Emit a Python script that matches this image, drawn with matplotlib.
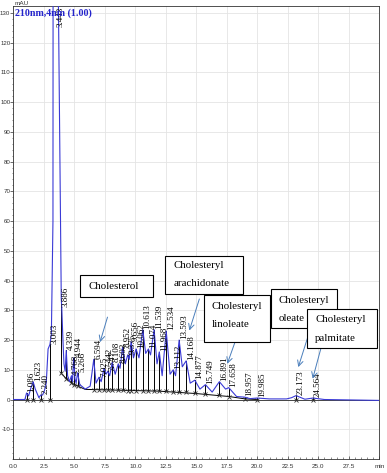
import numpy as np
import matplotlib.pyplot as plt
from matplotlib.patches import Rectangle

plt.rcParams["axes.unicode_minus"] = False

# chromatogram trace (time in min, signal in mAU)
trace_x = [0.0, 0.95, 1.086, 1.25, 1.45, 1.623, 1.80, 2.10, 2.240, 2.40, 2.55, 2.70, 2.85, 3.003,
           3.12, 3.25, 3.28, 3.60, 3.70, 3.93, 3.97, 4.05, 4.15, 4.25, 4.339, 4.45, 4.60, 4.768,
           4.85, 4.944, 5.05, 5.15, 5.266, 5.45, 5.90, 6.30, 6.45, 6.594, 6.78, 6.90, 7.025, 7.20,
           7.442, 7.60, 7.747, 7.90, 8.108, 8.35, 8.603, 8.75, 8.952, 9.18, 9.375, 9.50, 9.656,
           9.85, 10.062, 10.30, 10.613, 10.85, 11.074, 11.25, 11.539, 11.78, 11.968, 12.20, 12.534,
           12.85, 13.112, 13.30, 13.593, 13.85, 14.168, 14.50, 14.877, 15.30, 15.749, 16.30, 16.891,
           17.40, 17.658, 18.30, 18.957, 19.40, 19.985, 21.0, 22.40, 22.80, 23.173, 23.90, 24.564,
           25.50, 30.0]
trace_y = [0.0, 0.0, 2.2, 1.2, 4.0, 6.0, 3.5, 0.6, 1.5, 1.5, 3.0, 5.5, 17.0, 18.5,
           22.0, 60.0, 300.0, 300.0, 132.0, 34.0, 31.0, 22.0, 12.0, 9.5, 16.5, 8.0, 6.0, 8.0,
           6.0, 14.0, 7.0, 5.5, 9.0, 5.0, 3.5, 4.5, 9.0, 13.5, 5.5, 6.5, 7.5, 6.0,
           10.5, 8.5, 9.5, 8.0, 12.5, 8.5, 12.0, 10.5, 17.5, 12.0, 15.0, 13.5, 19.5,
           14.0, 17.0, 14.0, 23.5, 15.5, 17.0, 15.0, 23.5, 12.0, 16.0, 8.0, 23.0,
           8.5, 10.0, 8.0, 20.0, 11.0, 13.0, 5.5, 6.5, 3.5, 5.0, 2.5, 6.0,
           3.5, 4.0, 1.0, 0.8, 0.3, 0.5, 0.2, 0.2, 0.6, 1.3, 0.1, 0.5,
           0.0, -0.3]

# integrated peaks: retention time, apex height, baseline height under the apex
peak_rt = [1.086, 1.623, 2.240, 3.003, 3.443, 3.886, 4.339, 4.768, 4.944, 5.266, 6.594, 7.025,
           7.442, 7.747, 8.108, 8.603, 8.952, 9.375, 9.656, 10.062, 10.613, 11.074, 11.539,
           11.968, 12.534, 13.112, 13.593, 14.168, 14.877, 15.749, 16.891, 17.658, 18.957,
           19.985, 23.173, 24.564]
peak_top = [2.2, 6.0, 1.5, 18.5, 125.0, 31.0, 16.5, 8.0, 14.0, 9.0, 13.5, 7.5,
            10.5, 9.5, 12.5, 12.0, 17.5, 15.0, 19.5, 17.0, 23.5, 17.0, 23.5,
            16.0, 23.0, 10.0, 20.0, 13.0, 6.5, 5.0, 6.0, 4.0, 0.8,
            0.5, 1.3, 0.5]
peak_base = [0.0, 0.0, 0.0, 0.0, 0.0, 9.0, 7.0, 5.4, 5.0, 4.4, 3.3, 3.3,
             3.2, 3.2, 3.2, 3.1, 3.1, 3.0, 3.0, 3.0, 2.9, 2.9, 2.8,
             2.8, 2.7, 2.6, 2.5, 2.4, 2.2, 1.9, 1.4, 1.0, 0.2,
             0.0, 0.0, 0.0]

base_x = [3.886, 4.339, 5.0, 5.9, 8.0, 12.0, 15.0, 17.7, 19.0, 20.0]
base_y = [9.0, 7.0, 5.0, 3.4, 3.2, 2.8, 2.0, 1.0, 0.2, 0.0]

# annotation boxes: lines of text, box corners (data units), arrow start and tip
box_texts = [["Cholesterol"],
             ["Cholesteryl", "arachidonate"],
             ["Cholesteryl", "linoleate"],
             ["Cholesteryl", "oleate"],
             ["Cholesteryl", "palmitate"]]
box_x0 = [5.47, 12.43, 15.66, 21.10, 24.10]
box_x1 = [11.43, 18.85, 21.04, 26.56, 29.84]
box_y0 = [34.4, 35.5, 19.3, 24.1, 17.4]
box_y1 = [41.7, 48.4, 35.0, 37.2, 30.5]
text_x = [6.15, 13.11, 16.26, 21.72, 24.73]
text_y = [[38.1], [45.0, 39.0], [31.3, 25.2], [33.3, 27.1], [26.9, 20.6]]
arrow_from = [(7.72, 27.7), (15.25, 33.8), (18.31, 20.9), (24.10, 20.5), (25.20, 17.0)]
arrow_to = [(7.11, 19.3), (14.43, 23.2), (17.54, 12.0), (23.36, 10.9), (24.54, 7.0)]

serif = "Liberation Serif"
sans = "Liberation Sans"

fig = plt.figure(figsize=(3.87, 4.73), dpi=100)
ax = fig.add_axes([0.0344, 0.0296, 0.9457, 0.9577])
ax.set_xlim(0, 30)
ax.set_ylim(-20, 132.3)

ax.set_xticks(np.arange(0, 30.01, 2.5))
ax.set_xticklabels([f"{v:.1f}" for v in np.arange(0, 27.51, 2.5)] + ["min"])
ax.set_xticks(np.arange(0, 30.01, 0.5), minor=True)
ax.set_yticks(np.arange(-10, 131, 10))
ax.set_yticks(np.arange(-20, 132, 2), minor=True)
ax.grid(True, which="major", color="#e4e4e4", lw=0.6)
ax.set_axisbelow(True)
ax.tick_params(axis="x", which="both", direction="in", labelsize=4.6, labelcolor="#333333",
               pad=3.5, color="#333333")
ax.tick_params(axis="x", which="major", length=2.5, width=0.5)
ax.tick_params(axis="x", which="minor", length=1.5, width=0.4)
ax.tick_params(axis="y", which="both", direction="out", labelsize=4.4, labelcolor="#333333",
               pad=0.2, color="#333333")
ax.tick_params(axis="y", which="major", length=2.0, width=0.5)
ax.tick_params(axis="y", which="minor", length=1.0, width=0.4)
for lab in ax.get_xticklabels() + ax.get_yticklabels():
    lab.set_family(sans)
for s in ax.spines.values():
    s.set_color("#333333")
    s.set_linewidth(0.6)

ax.axhline(0, color="#444444", lw=0.7, zorder=2)
ax.plot(base_x, base_y, color="black", lw=0.7, zorder=3)

# drop lines and markers
for rt, top, base in zip(peak_rt, peak_top, peak_base):
    if rt == 3.443:
        continue
    ax.plot([rt, rt], [top, base], color="black", lw=0.7, zorder=3)
    ax.plot(rt, base, marker="x", ms=3, mew=0.6, color="#333333", zorder=4)

ax.plot(trace_x, trace_y, color="#3a3ad6", lw=0.8, zorder=5)

# retention time labels
for rt, top in zip(peak_rt, peak_top):
    if rt == 3.443:
        ax.annotate(f"{rt:.3f}", (rt, 132.0), xytext=(3.5, 0), textcoords="offset points",
                    rotation=90, ha="center", va="top", fontsize=6.5, family=serif, zorder=6)
    else:
        ax.annotate(f"{rt:.3f}", (rt, top), xytext=(3.5, 0.5), textcoords="offset points",
                    rotation=90, ha="center", va="bottom", fontsize=6.5, family=serif, zorder=6)

# annotation boxes with arrows
for i in range(len(box_texts)):
    ax.annotate("", xy=arrow_to[i], xytext=arrow_from[i],
                arrowprops=dict(arrowstyle="->", color="#4a7ebb", lw=0.7,
                                shrinkA=0, shrinkB=0), zorder=7)
    ax.add_patch(Rectangle((box_x0[i], box_y0[i]), box_x1[i] - box_x0[i], box_y1[i] - box_y0[i],
                           facecolor="white", edgecolor="black", lw=0.8, zorder=8 + i))
    for line, ty in zip(box_texts[i], text_y[i]):
        ax.text(text_x[i], ty, line, ha="left", va="center", fontsize=7.8, family=serif,
                zorder=8 + i)

ax.text(0.004, 0.995, "210nm,4nm (1.00)", transform=ax.transAxes, ha="left", va="top",
        fontsize=7.2, family=serif, fontweight="bold", color="#2424cc", zorder=9)
ax.text(0.003, 1.001, "mAU", transform=ax.transAxes, ha="left", va="bottom",
        fontsize=4.6, family=sans, color="#333333")

fig.savefig("out.png", dpi=100)
